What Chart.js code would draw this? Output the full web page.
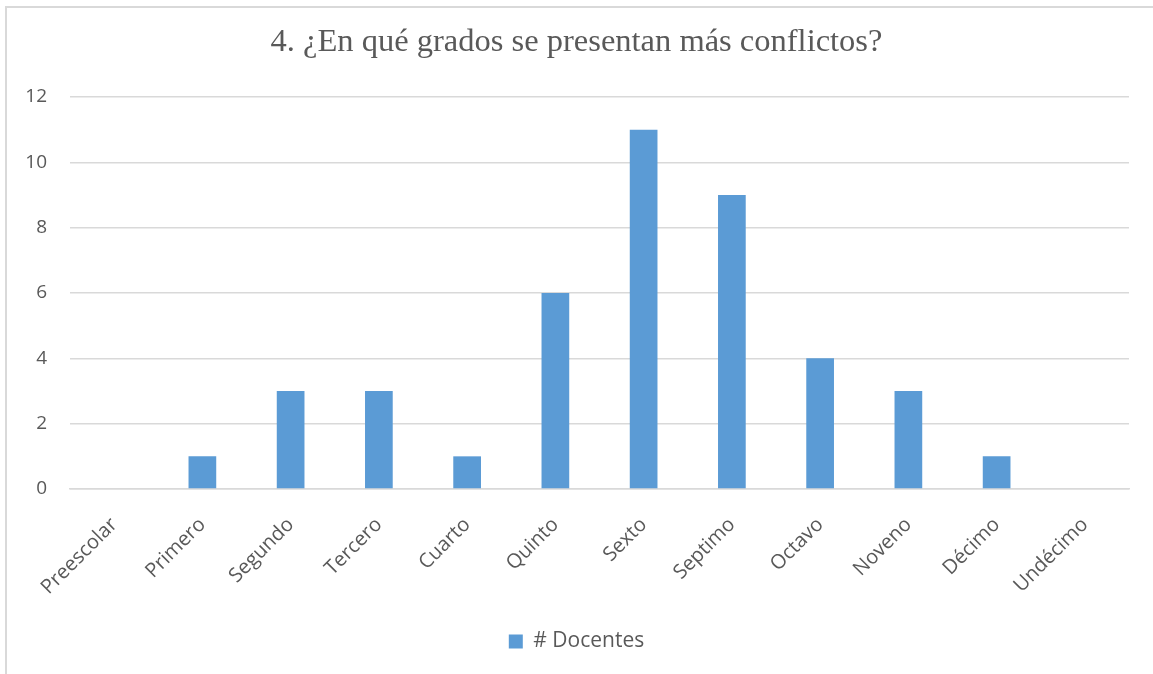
<!DOCTYPE html>
<html>
<head>
<meta charset="utf-8">
<script src="https://cdn.jsdelivr.net/npm/chart.js@4"></script>
<style>
  body { margin: 0; background: #fff; overflow: hidden; }
  .frame {
    position: absolute; left: 5px; top: 6px; width: 1300px; height: 800px;
    border: 2px solid #d9d9d9; box-sizing: border-box;
  }
  #wrap { position: absolute; left: 0; top: 0; width: 1153px; height: 674px; }
</style>
</head>
<body>
<div class="frame"></div>
<div id="wrap"><canvas id="chart"></canvas></div>
<script>
const grados = ["Preescolar", "Primero", "Segundo", "Tercero", "Cuarto", "Quinto",
  "Sexto", "Septimo", "Octavo", "Noveno", "Décimo", "Undécimo"];
const docentes = [0, 1, 3, 3, 1, 6, 11, 9, 4, 3, 1, 0];
const serieNombre = "# Docentes";
const titulo = "4. ¿En qué grados se presentan más conflictos?";

const ctx = document.getElementById("chart").getContext("2d");

new Chart(ctx, {
  type: "bar",
  data: {
    labels: grados,
    datasets: [
      {
        label: serieNombre,
        data: docentes,
        backgroundColor: "#5b9bd5",
        categoryPercentage: 1,
        barPercentage: 0.314,
      },
    ],
  },
  options: {
    responsive: true,
    maintainAspectRatio: false,
    animation: false,
    layout: { padding: { left: 24, right: 24, top: 17, bottom: 12 } },
    scales: {
      y: {
        min: 0,
        max: 12,
        afterFit: (s) => { s.width = 46; },
        ticks: {
          stepSize: 2,
          color: "#595959",
          padding: 23,
          font: { family: "Open Sans", size: 19 },
        },
        grid: { color: "#d9d9d9", lineWidth: 1.5, drawTicks: false },
        border: { display: false },
      },
      x: {
        afterFit: (s) => { s.height = 132; s.paddingLeft = 0; s.paddingRight = 0; },
        ticks: {
          color: "#595959",
          minRotation: 45,
          maxRotation: 45,
          padding: 16,
          font: { family: "Open Sans", size: 20 },
        },
        grid: { display: false },
        border: { color: "#d9d9d9", width: 1.5 },
      },
    },
    plugins: {
      title: {
        display: true,
        text: titulo,
        color: "#595959",
        font: { family: "Liberation Serif", size: 32.5, weight: "normal" },
        padding: { top: 6, bottom: 35 },
      },
      legend: {
        position: "bottom",
        labels: {
          color: "#595959",
          boxWidth: 14,
          boxHeight: 14,
          font: { family: "Open Sans", size: 21 },
          padding: 10,
        },
      },
    },
  },
});
</script>
</body>
</html>
